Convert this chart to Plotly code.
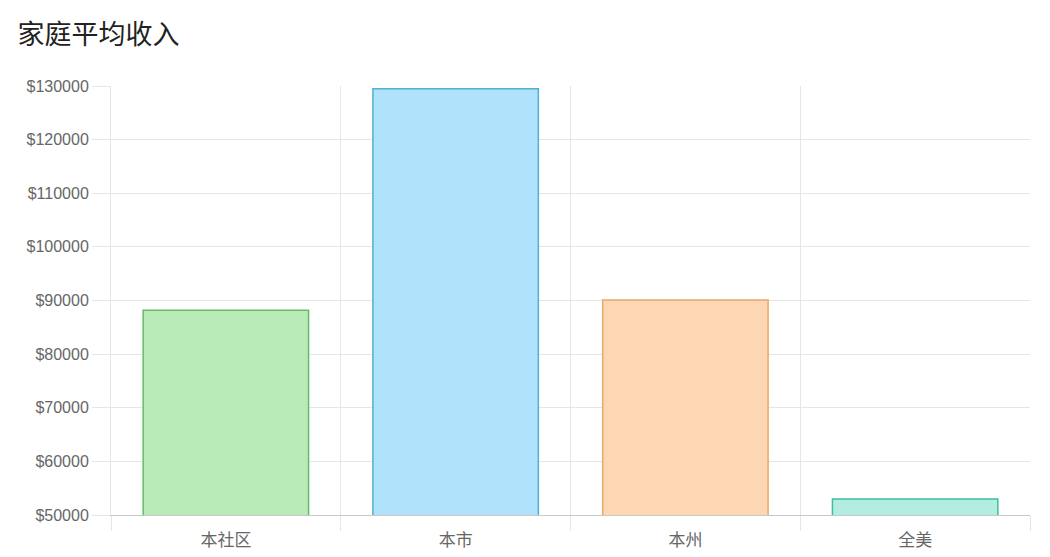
import plotly.graph_objects as go

# Data
categories = ['本社区', '本市', '本州', '全美']
income = [88200, 129500, 90100, 53000]
fill_colors = ['#b8ebb8', '#b0e3fb', '#fdd6b3', '#b3ece0']
line_colors = ['#66bb66', '#4fb0cf', '#e8a868', '#3cbf9f']
y_ticks = [50000, 60000, 70000, 80000, 90000, 100000, 110000, 120000, 130000]

fig = go.Figure(go.Bar(
    x=categories,
    y=income,
    base=0,
    marker=dict(color=fill_colors, line=dict(color=line_colors, width=1.5)),
    width=0.72,
    hovertemplate='%{x}: $%{y}<extra></extra>',
))

fig.update_layout(
    width=1050,
    height=557,
    paper_bgcolor='white',
    plot_bgcolor='white',
    font=dict(family='Noto Sans CJK SC, Arial, sans-serif', color='#666666'),
    title=dict(text='家庭平均收入', x=0.009, xanchor='left', y=0.953, yanchor='middle',
               font=dict(size=27, color='#222222')),
    margin=dict(l=103, r=28, t=78, b=50),
    showlegend=False,
)

fig.update_xaxes(
    showgrid=True, gridcolor='#e6e6e6', tickson='boundaries',
    ticks='outside', ticklen=15, tickcolor='#e6e6e6',
    ticklabelstandoff=10,
    showline=True, linecolor='#c8c8c8', linewidth=1,
    tickfont=dict(size=17, color='#666666'),
)

fig.update_yaxes(
    range=[50000, 130000], tickvals=y_ticks,
    ticktext=['$' + str(v) for v in y_ticks],
    showgrid=True, gridcolor='#e6e6e6',
    ticks='outside', ticklen=18, tickcolor='#e6e6e6',
    showline=True, linecolor='#e6e6e6', zeroline=False,
    tickfont=dict(size=16, color='#666666', family='Liberation Sans, Arial, sans-serif'),
)

fig.write_html("out.html")
